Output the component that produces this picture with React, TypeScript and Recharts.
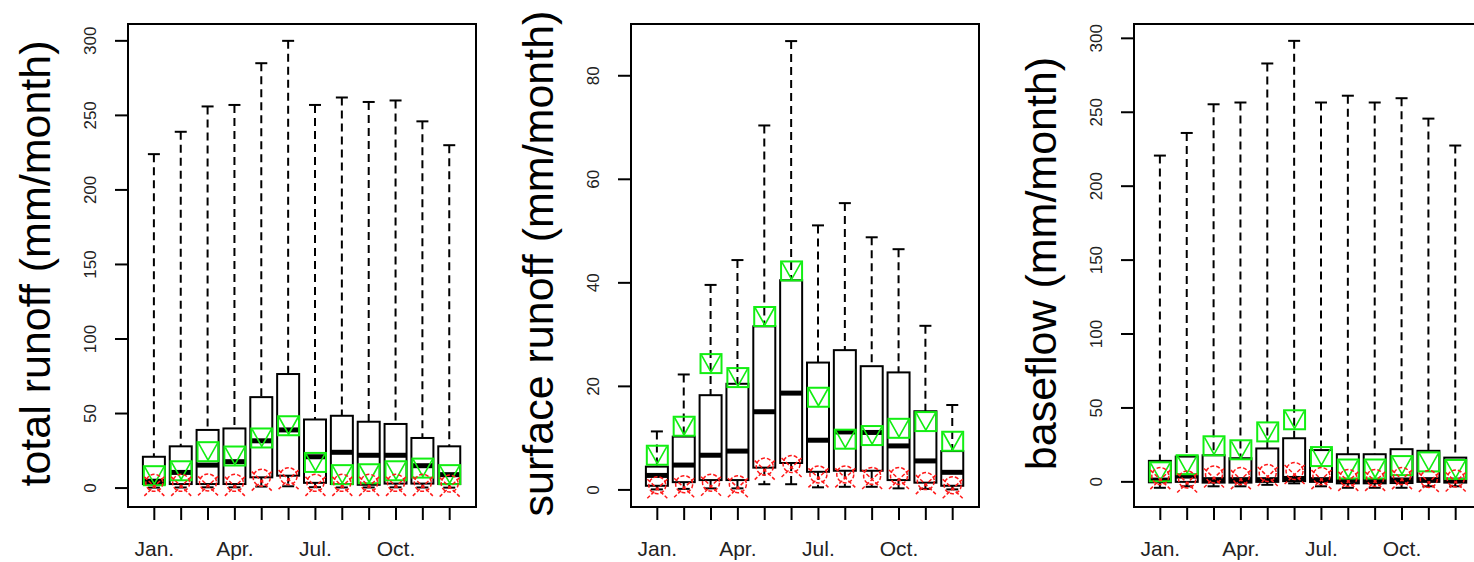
import { ComposedChart, Bar, Scatter, XAxis, YAxis, ReferenceArea } from 'recharts';

const FONT = '"Liberation Sans", Arial, Helvetica, sans-serif';
const GREEN = '#12ee12';
const RED = '#ff1a1a';

const MONTHS = [1, 2, 3, 4, 5, 6, 7, 8, 9, 10, 11, 12];
const MONTH_LABELS = ['Jan.', '', '', 'Apr.', '', '', 'Jul.', '', '', 'Oct.', '', ''];
const X_DOMAIN = [0.02, 12.98];

// total runoff
const totalHi = [224, 239, 256, 257, 285, 300, 257, 262, 259, 260, 246, 230];
const totalQ3 = [21, 28, 39, 40, 61, 76.5, 46, 48.5, 44.5, 43, 33.6, 28];
const totalMed = [4.6, 10.5, 15.4, 17.7, 31.7, 39, 21, 24, 22, 22, 15, 9];
const totalQ1 = [2.7, 2.7, 2.7, 2.7, 7.2, 8.3, 3.5, 2.7, 2.2, 3, 3, 2.7];
const totalLo = [0.3, 0.4, 0.5, 0.5, 1.0, 1.2, 0.6, 0.4, 0.4, 0.5, 0.4, 0.3];
const totalMean = [8.3, 11.6, 24.4, 21.5, 33.6, 41.8, 17.2, 9, 9.6, 11.6, 13.4, 9];
const totalRed = [3.5, 3.5, 3.8, 3.5, 7, 8, 3.5, 3.5, 3.5, 3.5, 3.5, 3];

// surface runoff
const surfHi = [11.3, 22.3, 39.6, 44.4, 70.4, 86.7, 51.1, 55.4, 48.8, 46.5, 31.7, 16.4];
const surfQ3 = [4.5, 10.3, 18.3, 20.5, 31.6, 40.5, 24.6, 27, 23.9, 22.7, 15.2, 7.5];
const surfMed = [2.8, 4.8, 6.7, 7.5, 15.1, 18.7, 9.6, 11.2, 11.1, 8.5, 5.6, 3.4];
const surfQ1 = [0.8, 1.5, 1.9, 1.9, 4.3, 5.2, 3.5, 3.7, 3.7, 1.9, 1.4, 0.8];
const surfLo = [0.1, 0.2, 0.3, 0.3, 1.1, 1.1, 0.5, 0.6, 0.6, 0.3, 0.2, 0.1];
const surfMean = [6.7, 12.3, 24.4, 21.7, 33.5, 42.3, 17.9, 9.8, 10.5, 11.9, 13.2, 9.4];
const surfRed = [0.9, 1.1, 1.4, 1.1, 4.5, 5, 3, 3, 2.7, 2.7, 1.7, 0.9];

// baseflow
const baseHi = [220.7, 236, 255.4, 256.6, 283, 298.3, 256.6, 261.2, 256.6, 259.5, 245.7, 227.5];
const baseQ3 = [14.2, 17.1, 18, 16, 22.6, 29.5, 21.5, 18.7, 18.7, 22.1, 21, 16.4];
const baseMed = [1.2, 3.9, 1.5, 1.5, 1.5, 2.3, 1.5, 1, 1, 1.3, 1.5, 1.2];
const baseQ1 = [-0.3, 0, -0.5, -0.5, 0, 0.5, 0, -1, -1, -0.8, 0, -0.5];
const baseLo = [-4, -3, -3, -3, -2, -1, -3, -4, -4, -4, -3, -3];
const baseMean = [6.8, 11.6, 24.4, 21.7, 33.8, 42, 17.1, 8.7, 8.7, 11, 13.5, 8.4];
const baseRed = [3.9, 1.6, 5, 3.9, 6, 7.3, 3.9, 2.7, 2.7, 3.9, 2, 2.3];

const TICKS_300 = [0, 50, 100, 150, 200, 250, 300];
const TICKS_80 = [0, 20, 40, 60, 80];

function BoxShape(props: any) {
  const { x, y, width, height, payload } = props;
  if (x == null || !payload) return <g />;
  const k = height / (payload.hi - payload.lo);
  const Y = (v: number) => y + (payload.hi - v) * k;
  const cx = x + width / 2;
  const hw = 11;
  return (
    <g>
      <line x1={cx} x2={cx} y1={Y(payload.hi)} y2={Y(payload.q3)} stroke="#000" strokeWidth={2} strokeDasharray="8 5" />
      <line x1={cx} x2={cx} y1={Y(payload.q1)} y2={Y(payload.lo)} stroke="#000" strokeWidth={2} strokeDasharray="8 5" />
      <line x1={cx - 6} x2={cx + 6} y1={Y(payload.hi)} y2={Y(payload.hi)} stroke="#000" strokeWidth={2} />
      <line x1={cx - 6} x2={cx + 6} y1={Y(payload.lo)} y2={Y(payload.lo)} stroke="#000" strokeWidth={2} />
      <rect x={cx - hw} y={Y(payload.q3)} width={hw * 2} height={Y(payload.q1) - Y(payload.q3)} fill="#fff" stroke="#000" strokeWidth={2} />
      <line x1={cx - hw} x2={cx + hw} y1={Y(payload.med)} y2={Y(payload.med)} stroke="#000" strokeWidth={5} />
    </g>
  );
}

function GreenMark(props: any) {
  const { cx, cy } = props;
  if (cx == null) return <g />;
  return (
    <g fill="none" stroke={GREEN}>
      <rect x={cx - 10.5} y={cy - 9.5} width={21} height={19} strokeWidth={2} />
      <polyline points={`${cx - 9.5},${cy - 8.5} ${cx},${cy + 8.5} ${cx + 9.5},${cy - 8.5}`} strokeWidth={1.6} />
    </g>
  );
}

function RedMark(props: any) {
  const { cx, cy } = props;
  if (cx == null) return <g />;
  return (
    <g fill="none" stroke={RED} strokeWidth={1.5} strokeDasharray="4 2">
      <circle cx={cx} cy={cy} r={8.5} />
      <line x1={cx - 10} y1={cy - 6} x2={cx + 10} y2={cy + 13} />
      <line x1={cx + 10} y1={cy - 6} x2={cx - 10} y2={cy + 13} />
    </g>
  );
}

function YTick(props: any) {
  const { x, y, payload } = props;
  return (
    <text transform={`translate(${x - 23},${y}) rotate(-90)`} textAnchor="middle" dominantBaseline="central"
      fontSize={17} fontFamily={FONT} fill="#222">
      {payload.value}
    </text>
  );
}

function XTick(props: any) {
  const { x, y, payload } = props;
  const label = MONTH_LABELS[payload.value - 1];
  if (!label) return <g />;
  return (
    <text x={x} y={y + 26} textAnchor="middle" dominantBaseline="central" fontSize={21} fontFamily={FONT} fill="#222">
      {label}
    </text>
  );
}

function YTitle(props: any) {
  const vb = props.viewBox || { x: 0, y: 24, width: 128, height: 483 };
  const cx = vb.x + 35;
  const cy = vb.y + vb.height / 2 - 2;
  return (
    <text transform={`translate(${cx},${cy}) rotate(-90)`} textAnchor="middle" dominantBaseline="central"
      fontSize={43} fontFamily={FONT} fill="#000">
      {props.text}
    </text>
  );
}

interface PanelProps {
  title: string;
  domain: number[];
  ticks: number[];
  lo: number[];
  q1: number[];
  med: number[];
  q3: number[];
  hi: number[];
  mean: number[];
  red: number[];
}

function Panel({ title, domain, ticks, lo, q1, med, q3, hi, mean, red }: PanelProps) {
  const data = MONTHS.map((m, i) => ({
    m, lo: lo[i], q1: q1[i], med: med[i], q3: q3[i], hi: hi[i], mean: mean[i], red: red[i],
  }));
  return (
    <div style={{ width: 503, height: 562, flex: '0 0 503px' }}>
      <ComposedChart width={503} height={562} data={data} margin={{ top: 24, right: 27, bottom: 0, left: 0 }}>
        <XAxis dataKey="m" type="number" domain={X_DOMAIN} allowDataOverflow ticks={MONTHS} height={55}
          axisLine={false} tickSize={13} tickLine={{ stroke: '#000', strokeWidth: 2 }} tick={<XTick />} interval={0} />
        <YAxis type="number" domain={domain} allowDataOverflow ticks={ticks} width={128}
          axisLine={false} tickSize={13} tickLine={{ stroke: '#000', strokeWidth: 2 }} tick={<YTick />} interval={0}
          label={<YTitle text={title} />} />
        <Bar dataKey={(d: any) => [d.lo, d.hi]} barSize={22} shape={<BoxShape />} isAnimationActive={false} />
        <Scatter dataKey="mean" shape={<GreenMark />} isAnimationActive={false} />
        <Scatter dataKey="red" shape={<RedMark />} isAnimationActive={false} />
        <ReferenceArea x1={X_DOMAIN[0]} x2={X_DOMAIN[1]} y1={domain[0]} y2={domain[1]} fill="none"
          stroke="#000" strokeWidth={2} ifOverflow="visible" />
      </ComposedChart>
    </div>
  );
}

export default function App() {
  return (
    <div style={{ position: 'absolute', left: 0, top: 0, width: 1474, height: 562, overflow: 'hidden', background: '#fff', display: 'flex' }}>
      <Panel title="total runoff (mm/month)" domain={[-12.7, 311.3]} ticks={TICKS_300}
        lo={totalLo} q1={totalQ1} med={totalMed} q3={totalQ3} hi={totalHi} mean={totalMean} red={totalRed} />
      <Panel title="surface runoff (mm/month)" domain={[-3.3, 90]} ticks={TICKS_80}
        lo={surfLo} q1={surfQ1} med={surfMed} q3={surfQ3} hi={surfHi} mean={surfMean} red={surfRed} />
      <Panel title="baseflow (mm/month)" domain={[-17, 309.7]} ticks={TICKS_300}
        lo={baseLo} q1={baseQ1} med={baseMed} q3={baseQ3} hi={baseHi} mean={baseMean} red={baseRed} />
    </div>
  );
}
